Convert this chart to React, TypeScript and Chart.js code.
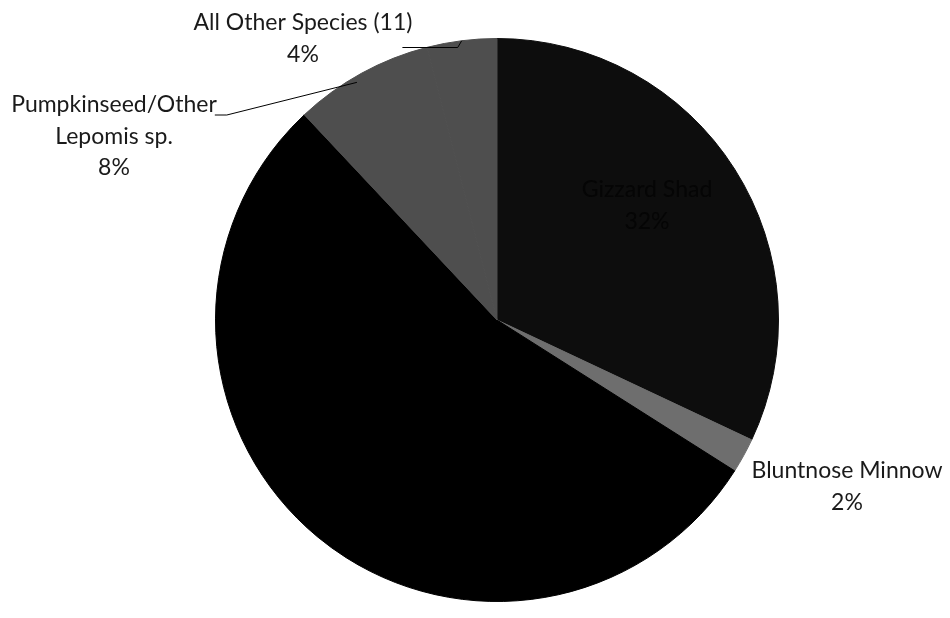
import React, { useEffect, useRef } from "react";
import { Chart, registerables } from "chart.js";

Chart.register(...registerables);

const categories = [
  "Gizzard Shad",
  "Bluntnose Minnow",
  "Spotfin Shiner",
  "Pumpkinseed/Other Lepomis sp.",
  "All Other Species (11)",
];
const percents = [32, 2, 54, 8, 4];
const labelLines = [
  ["Gizzard Shad"],
  ["Bluntnose Minnow"],
  [],
  ["Pumpkinseed/Other", "Lepomis sp."],
  ["All Other Species (11)"],
];
const sliceColors = ["#0d0d0d", "#6e6e6e", "#000000", "#4e4e4e", "#4e4e4e"];
const textColors = ["#050505", "#1a1a1a", "#000000", "#1a1a1a", "#1a1a1a"];
// label text centre offsets from pie centre, and leader line flags
const labelOffsets = [
  { dx: 150, dy: -130, leader: false },
  { dx: 350, dy: 151, leader: false },
  { dx: 0, dy: 0, leader: false },
  { dx: -383, dy: -215, leader: true },
  { dx: -194, dy: -297, leader: true },
];

const FONT = "23px Lato, 'Open Sans', sans-serif";
const LINE_H = 31.5;

const labelPlugin = {
  id: "pieLabels",
  afterDraw(chart: any) {
    const ctx = chart.ctx;
    const meta = chart.getDatasetMeta(0);
    ctx.save();
    ctx.font = FONT;
    ctx.textAlign = "center";
    ctx.textBaseline = "middle";
    meta.data.forEach((arc: any, i: number) => {
      const lines = labelLines[i];
      if (!lines.length) return;
      const { x, y, startAngle, endAngle, outerRadius } = arc.getProps(
        ["x", "y", "startAngle", "endAngle", "outerRadius"],
        true
      );
      const off = labelOffsets[i];
      const cx = x + off.dx;
      const cy = y + off.dy;
      const all = [...lines, percents[i] + "%"];
      ctx.fillStyle = textColors[i];
      all.forEach((t, k) => ctx.fillText(t, cx, cy + k * LINE_H));
      if (off.leader) {
        const mid = (startAngle + endAngle) / 2 - (i === 3 ? 0.03 : 0);
        const r = i === 3 ? outerRadius * 0.98 : outerRadius;
        const ex = x + Math.cos(mid) * r;
        const ey = y + Math.sin(mid) * r;
        const w = ctx.measureText(lines[0]).width;
        ctx.strokeStyle = "#000";
        ctx.lineWidth = 1;
        ctx.beginPath();
        if (i === 3) {
          const sx = cx + w / 2;
          const sy = cy + 10;
          ctx.moveTo(sx - 2, sy);
          ctx.lineTo(sx + 10, sy);
          ctx.lineTo(ex, ey);
        } else {
          const sx = cx + w / 2 - 10;
          const sy = cy + LINE_H - 7;
          ctx.moveTo(sx, sy);
          ctx.lineTo(ex - 4, sy);
          ctx.lineTo(ex, ey);
        }
        ctx.stroke();
      }
    });
    ctx.restore();
  },
};

export default function App() {
  const ref = useRef<HTMLCanvasElement>(null);
  useEffect(() => {
    const chart = new Chart(ref.current as HTMLCanvasElement, {
      type: "pie",
      data: {
        labels: categories,
        datasets: [
          {
            data: percents,
            backgroundColor: sliceColors,
            borderColor: sliceColors,
            borderWidth: 1,
          },
        ],
      },
      options: {
        animation: false,
        responsive: false,
        layout: { padding: { top: 38, bottom: 16, left: 44, right: 0 } },
        plugins: { legend: { display: false }, tooltip: { enabled: false } },
      },
      plugins: [labelPlugin],
    });
    return () => chart.destroy();
  }, []);
  return (
    <div style={{ position: "absolute", left: 0, top: 0, width: 950, height: 618, background: "#fff" }}>
      <canvas ref={ref} width={950} height={618} />
    </div>
  );
}
